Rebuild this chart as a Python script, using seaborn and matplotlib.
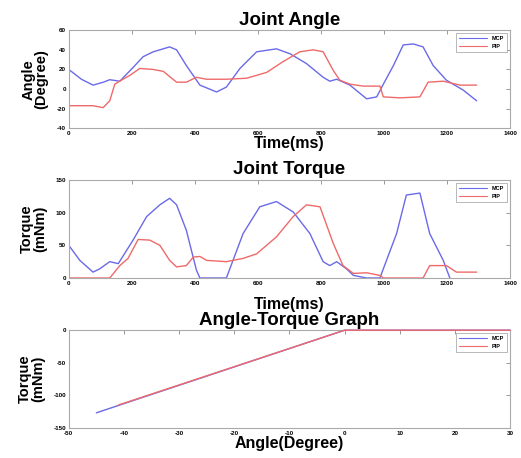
import numpy as np
import pandas as pd
import matplotlib
matplotlib.use("Agg")
import matplotlib.pyplot as plt
import seaborn as sns

# ---- data ----
angle_mcp_t = [0, 40, 77, 110, 130, 162, 204, 236, 268, 289, 320, 342, 373, 416, 469, 500, 543, 596, 659, 702, 754, 807, 828, 850, 892, 945, 977, 998, 1030, 1061, 1093, 1124, 1156, 1198, 1251, 1294]
angle_mcp_v = [20, 10, 4, 7, 9.5, 8, 22, 33, 38, 40, 43, 40, 24, 4, -3, 2, 21, 38, 41, 36, 26, 12, 8, 10, 4, -10, -8, 5, 24, 45, 46, 43, 24, 9, -1, -12]
angle_pip_t = [0, 77, 109, 130, 146, 172, 194, 225, 268, 300, 342, 373, 405, 437, 500, 564, 628, 680, 733, 776, 807, 839, 860, 892, 934, 987, 998, 1051, 1114, 1140, 1188, 1241, 1294]
angle_pip_v = [-17, -17, -19, -12, 5, 10, 14, 21, 20, 18, 7, 7, 12, 10, 10, 11, 17, 28, 38, 40, 38, 19, 9, 5, 3, 3, -8, -9, -8, 7, 8, 4, 4]

torque_mcp_t = [0, 35, 77, 98, 130, 157, 204, 247, 289, 320, 342, 373, 405, 416, 500, 553, 606, 659, 712, 765, 807, 828, 850, 881, 903, 945, 987, 1040, 1071, 1114, 1145, 1188, 1209]
torque_mcp_v = [50, 27, 9, 14, 25, 22, 58, 94, 112, 122, 112, 73, 12, 0, 0, 68, 109, 117, 101, 68, 25, 19, 25, 14, 4, 0, 0, 68, 127, 130, 68, 27, 0]
torque_pip_t = [0, 130, 162, 188, 220, 257, 289, 320, 342, 373, 395, 416, 437, 500, 553, 596, 659, 712, 754, 797, 839, 870, 903, 945, 987, 998, 1124, 1145, 1198, 1230, 1294]
torque_pip_v = [0, 0, 19, 30, 59, 58, 50, 27, 17, 19, 32, 33, 27, 25, 30, 37, 63, 94, 112, 109, 53, 19, 7, 8, 4, 0, 0, 19, 19, 9, 9]

at_mcp_angle = [-45, 0, 30]
at_mcp_torque = [-127, 0, 0]
at_pip_angle = [-41, 0, 30]
at_pip_torque = [-115, 0, 0]

series = ["MCP", "PIP"]
colors = {"MCP": "#6a6ae8", "PIP": "#ee6a6a"}

time_ticks = [0, 200, 400, 600, 800, 1000, 1200, 1400]
angle_ticks = [-40, -20, 0, 20, 40, 60]
torque_ticks = [0, 50, 100, 150]
at_x_ticks = [-50, -40, -30, -20, -10, 0, 10, 20, 30]
at_y_ticks = [-150, -100, -50, 0]

sns.set_theme(style="white")
plt.rcParams["font.family"] = ["Liberation Sans", "DejaVu Sans"]
plt.rcParams["font.weight"] = "bold"
plt.rcParams["text.color"] = "black"
plt.rcParams["axes.labelcolor"] = "black"
plt.rcParams["xtick.color"] = "black"
plt.rcParams["ytick.color"] = "black"

fig = plt.figure(figsize=(5.21, 4.58), dpi=100)
L, W = 0.132, 0.847
ax1 = fig.add_axes([L, 0.720, W, 0.214])
ax2 = fig.add_axes([L, 0.393, W, 0.214])
ax3 = fig.add_axes([L, 0.066, W, 0.213])


def df_of(t1, v1, t2, v2):
    return pd.concat([
        pd.DataFrame({"x": t1, "y": v1, "s": "MCP"}),
        pd.DataFrame({"x": t2, "y": v2, "s": "PIP"}),
    ], ignore_index=True)


d1 = df_of(angle_mcp_t, angle_mcp_v, angle_pip_t, angle_pip_v)
d2 = df_of(torque_mcp_t, torque_mcp_v, torque_pip_t, torque_pip_v)
d3 = df_of(at_mcp_angle, at_mcp_torque, at_pip_angle, at_pip_torque)

for ax, d in [(ax1, d1), (ax2, d2), (ax3, d3)]:
    sns.lineplot(data=d, x="x", y="y", hue="s", hue_order=series, palette=colors,
                 sort=False, estimator=None, linewidth=1.0, ax=ax)
for line in ax3.get_lines():
    line.set_clip_on(False)
    line.set_zorder(5)


def style(ax, xt, yt, title, xlabel, ylabel, xpad):
    ax.set_xlim(xt[0], xt[-1])
    ax.set_ylim(yt[0], yt[-1])
    ax.set_xticks(xt)
    ax.set_yticks(yt)
    ax.set_xticklabels([str(v) for v in xt], fontsize=4.5, fontweight="bold")
    ax.set_yticklabels([str(v) for v in yt], fontsize=4.5, fontweight="bold")
    ax.tick_params(direction="in", length=3, width=0.6, color="#888888",
                   labelcolor="black", top=True, right=True, pad=2)
    for sp in ax.spines.values():
        sp.set_color("#aaaaaa")
        sp.set_linewidth(0.8)
    ax.set_title(title, fontsize=13.5, fontweight="bold", pad=4, color="black")
    ax.set_xlabel(xlabel, fontsize=11.5, fontweight="bold", labelpad=xpad, color="black")
    ax.set_ylabel(ylabel, fontsize=10.5, fontweight="bold", labelpad=6,
                  linespacing=0.9, color="black")
    leg = ax.legend(loc="upper right", fontsize=4, frameon=True, fancybox=False,
                    handlelength=5, borderpad=0.6, labelspacing=0.5)
    leg.get_frame().set_edgecolor("#999999")
    leg.get_frame().set_linewidth(0.6)
    leg.set_zorder(10)
    for line in leg.get_lines():
        line.set_linewidth(0.8)


style(ax1, time_ticks, angle_ticks, "Joint Angle", "Time(ms)", "Angle\n(Degree)", 0)
style(ax2, time_ticks, torque_ticks, "Joint Torque", "Time(ms)", "Torque\n(mNm)", 8)
style(ax3, at_x_ticks, at_y_ticks, "Angle-Torque Graph", "Angle(Degree)", "Torque\n(mNm)", 0)

fig.savefig("out.png", dpi=100)
